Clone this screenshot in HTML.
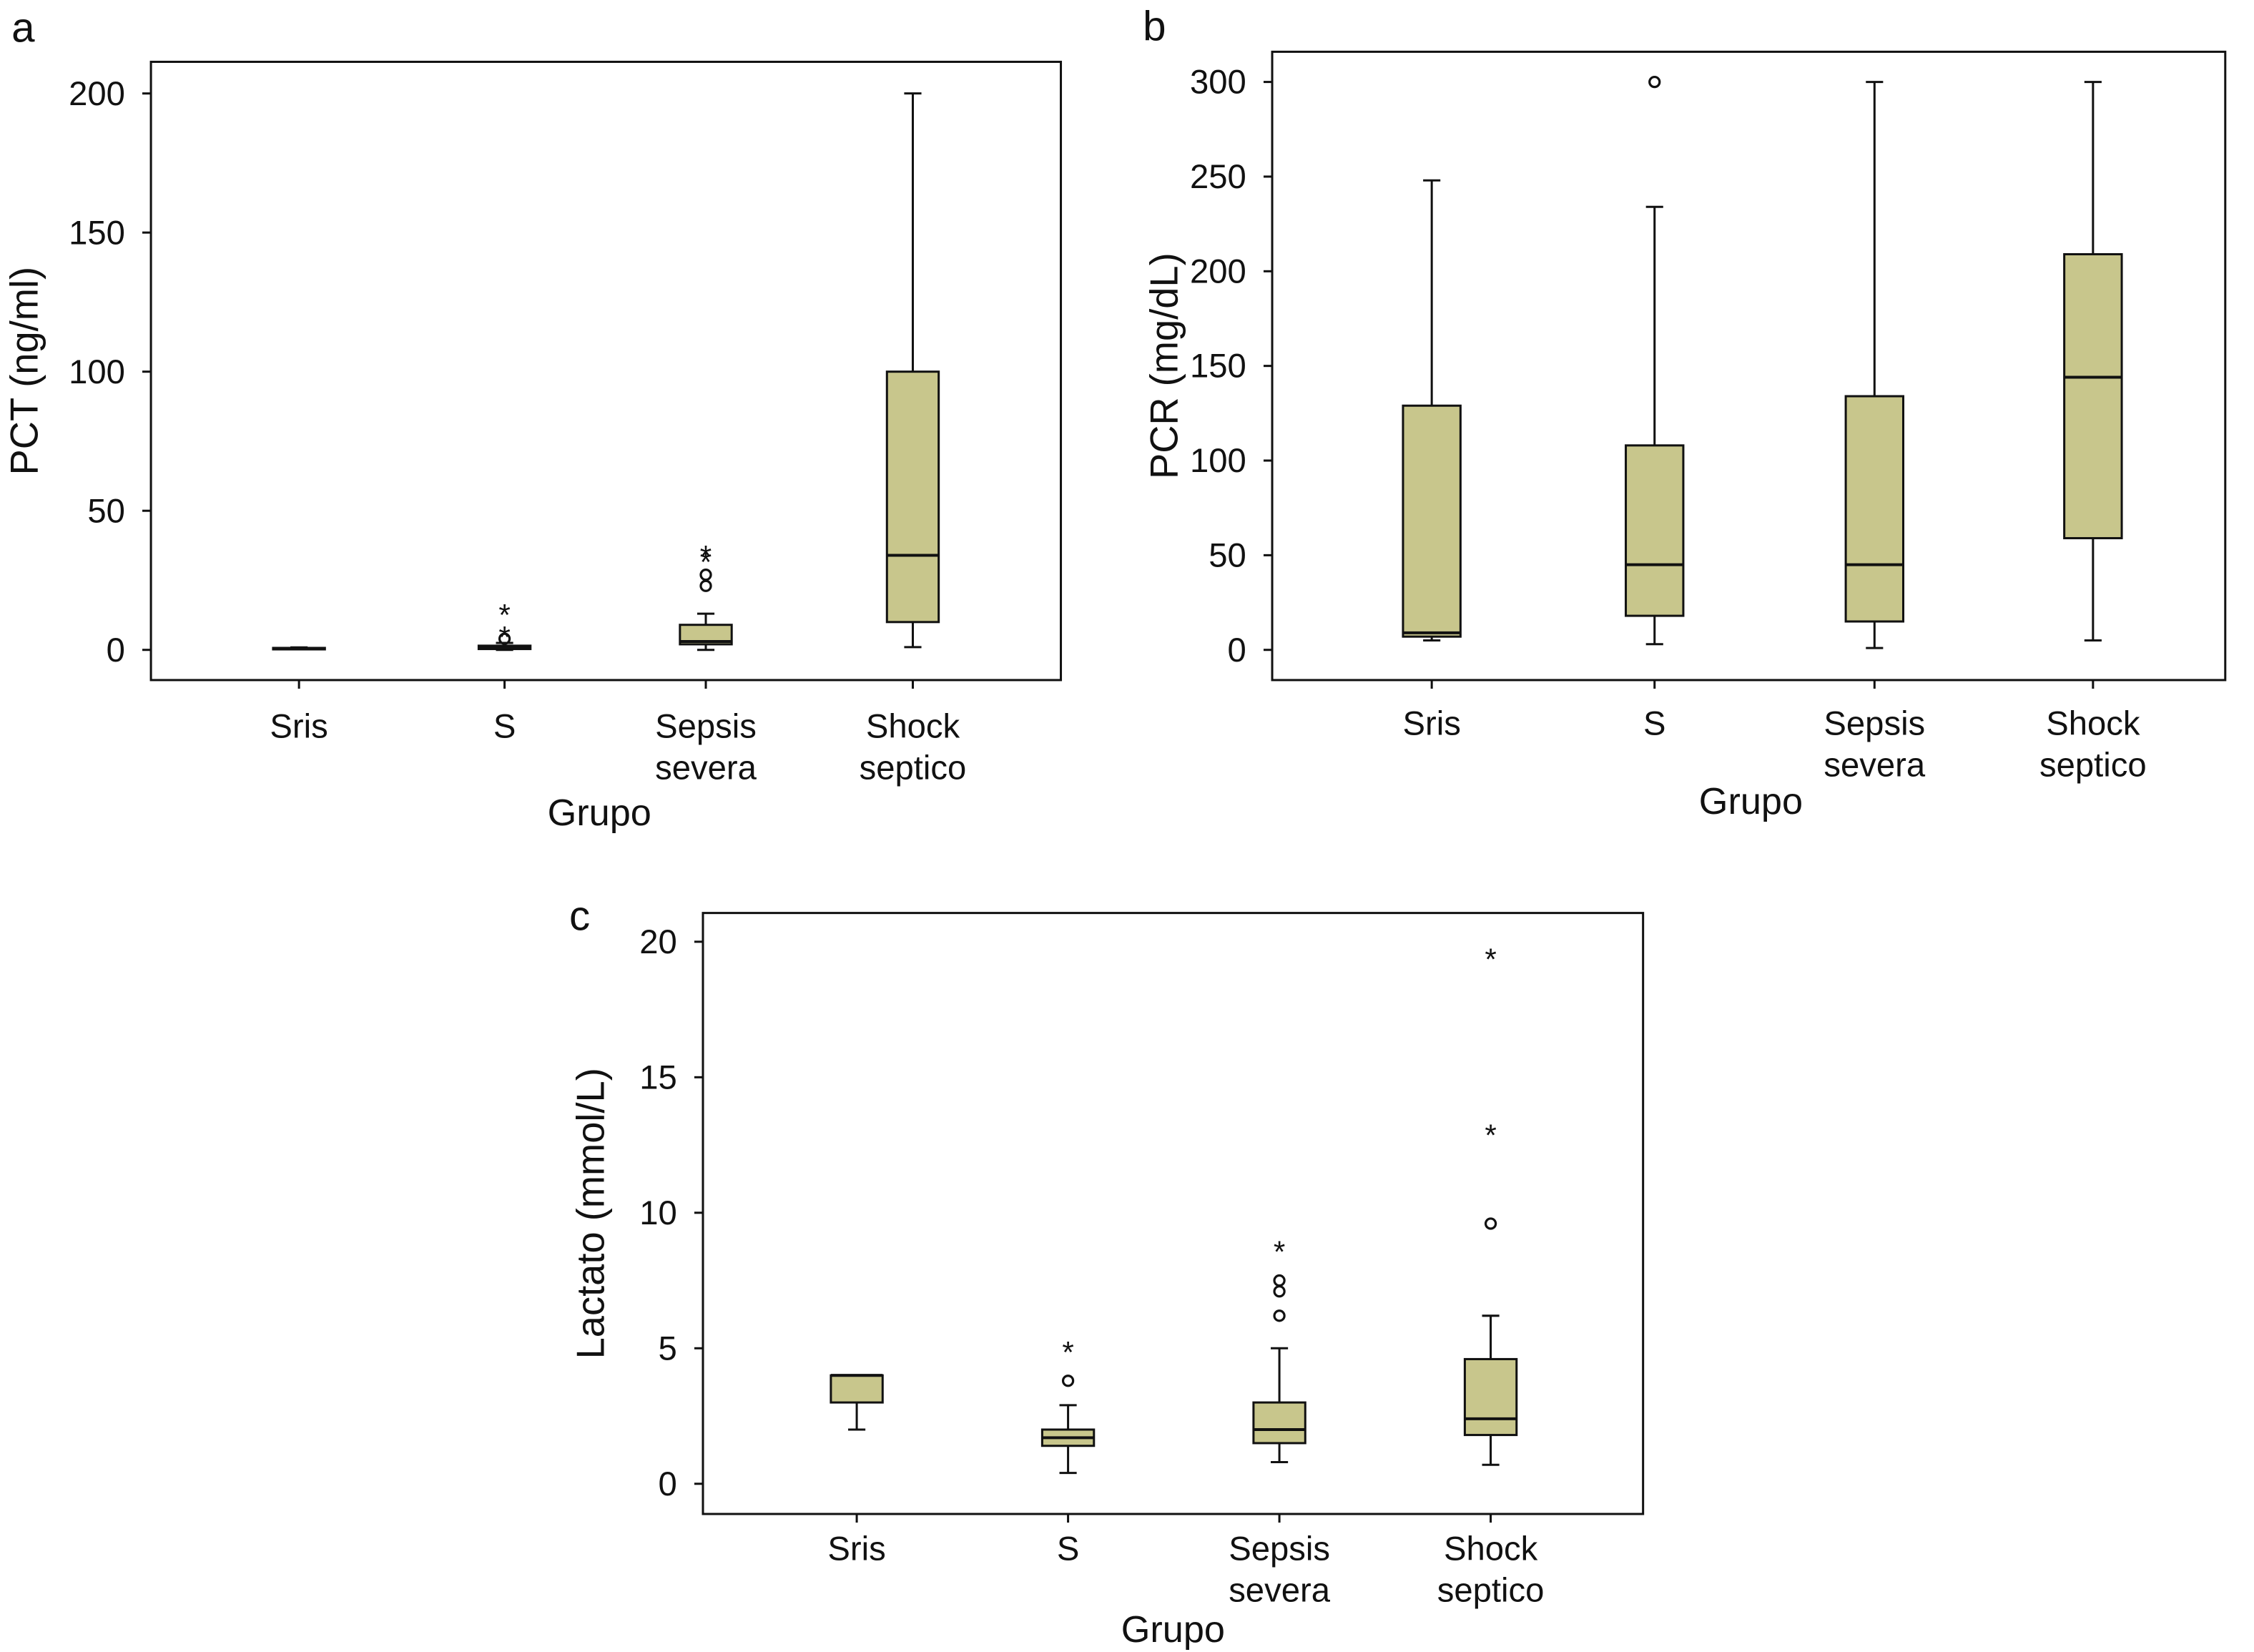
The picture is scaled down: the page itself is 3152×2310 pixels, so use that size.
<!DOCTYPE html>
<html><head><meta charset="utf-8"><style>
html,body{margin:0;padding:0;background:#fff}
svg{display:block}
text{font-family:"Liberation Sans",Arial,sans-serif;fill:#111}
</style></head><body>
<svg id="chart" width="3152" height="2310" viewBox="0 0 1568 1149" preserveAspectRatio="none" xmlns="http://www.w3.org/2000/svg"></svg>
<script>
const categories = ["Sris","S","Sepsis|severa","Shock|septico"];
// panel a: PCT
const pctStats = [[0.2,0.3,0.5,0.7,0.9],[0,0.3,0.8,1.5,2.5],[0,2,3,9,13],[1,10,34,100,200]];
const pctCircles = [[],[4],[23,27],[]];
const pctStars = [[],[6,14],[33,35],[]];
const pctTicks = [0,50,100,150,200];
// panel b: PCR
const pcrStats = [[5,7,9,129,248],[3,18,45,108,234],[1,15,45,134,300],[5,59,144,209,300]];
const pcrCircles = [[],[300],[],[]];
const pcrStars = [[],[],[],[]];
const pcrTicks = [0,50,100,150,200,250,300];
// panel c: Lactato
const lacStats = [[2,3,4,4,4],[0.4,1.4,1.7,2.0,2.9],[0.8,1.5,2.0,3.0,5.0],[0.7,1.8,2.4,4.6,6.2]];
const lacCircles = [[],[3.8],[6.2,7.1,7.5],[9.6]];
const lacStars = [[],[5.0],[8.7],[13.0,19.5]];
const lacTicks = [0,5,10,15,20];

const svg = document.getElementById('chart');
const NS = "http://www.w3.org/2000/svg";
function mk(tag, attrs, parent){const e=document.createElementNS(NS,tag);for(const k in attrs)e.setAttribute(k,attrs[k]);(parent||svg).appendChild(e);return e;}

function panel(cfg){
  const g = mk('g',{});
  
  
  const y = v => cfg.y0 - (v - cfg.vmin) * (cfg.y0 - cfg.y1) / (cfg.vmax - cfg.vmin);
  const frame = mk('rect',{x:cfg.fx,y:cfg.fy,width:cfg.fw,height:cfg.fh,fill:'none',stroke:'#111','stroke-width':1.5},g);
  
  
  const lbl = mk('text',{x:cfg.lx,y:cfg.ly,'font-size':29},g); lbl.textContent=cfg.letter;
  
  
  cfg.ticks.forEach(t=>{
    mk('line',{x1:cfg.fx-6,x2:cfg.fx,y1:y(t),y2:y(t),stroke:'#111','stroke-width':1.5},g);
    const tx = mk('text',{x:cfg.fx-18,y:y(t)+8,'font-size':23.5,'text-anchor':'end'},g); tx.textContent=t;
    
    
  });
  const yt = mk('text',{transform:`translate(${cfg.ytx},${(cfg.fy+cfg.fy+cfg.fh)/2}) rotate(-90)`,'font-size':27,'text-anchor':'middle'},g);
  yt.textContent = cfg.ytitle;
  
  
  const xt = mk('text',{x:cfg.xtx,y:cfg.xty,'font-size':26,'text-anchor':'middle'},g);
  xt.textContent='Grupo';
  
  
  categories.forEach((c,i)=>{
    const cx = cfg.cx[i], hw = cfg.bw/2, s = cfg.stats[i];
    mk('line',{x1:cx,x2:cx,y1:cfg.fy+cfg.fh,y2:cfg.fy+cfg.fh+6,stroke:'#111','stroke-width':1.5},g);
    c.split('|').forEach((p,j)=>{
      const t = mk('text',{x:cx,y:cfg.fy+cfg.fh+cfg.xlo+j*29,'font-size':23.5,'text-anchor':'middle'},g); t.textContent=p;
      
      
    });
    const bg = mk('g',{},g);
    
    
    mk('line',{x1:cx,x2:cx,y1:y(s[0]),y2:y(s[1]),stroke:'#111','stroke-width':1.5},bg);
    mk('line',{x1:cx,x2:cx,y1:y(s[3]),y2:y(s[4]),stroke:'#111','stroke-width':1.5},bg);
    mk('line',{x1:cx-6,x2:cx+6,y1:y(s[0]),y2:y(s[0]),stroke:'#111','stroke-width':1.5},bg);
    mk('line',{x1:cx-6,x2:cx+6,y1:y(s[4]),y2:y(s[4]),stroke:'#111','stroke-width':1.5},bg);
    mk('rect',{x:cx-hw,y:y(s[3]),width:cfg.bw,height:Math.max(1,y(s[1])-y(s[3])),fill:'#c8c68c',stroke:'#111','stroke-width':1.5},bg);
    mk('line',{x1:cx-hw,x2:cx+hw,y1:y(s[2]),y2:y(s[2]),stroke:'#111','stroke-width':2},bg);
    cfg.circles[i].forEach(v=>{
      const o = mk('circle',{cx:cx,cy:y(v),r:3.5,fill:'none',stroke:'#111','stroke-width':1.6},bg);
      
      
    });
    cfg.stars[i].forEach(v=>{
      const o = mk('text',{x:cx,y:y(v)+10,'font-size':21,'text-anchor':'middle'},bg); o.textContent='*';
      
      
    });
  });
}

panel({name:'panel-a-pct',letter:'a',lx:8,ly:29,fx:105,fy:43,fw:633,fh:430,y0:452,y1:65,vmin:0,vmax:200,
  ticks:pctTicks,ytitle:'PCT (ng/ml)',ytx:26,xtx:417,xty:574,xlo:40,cx:[208,351,491,635],bw:36,
  stats:pctStats,circles:pctCircles,stars:pctStars});
panel({name:'panel-b-pcr',letter:'b',lx:795,ly:28,fx:885,fy:36,fw:663,fh:437,y0:452,y1:57,vmin:0,vmax:300,
  ticks:pcrTicks,ytitle:'PCR (mg/dL)',ytx:819,xtx:1218,xty:566,xlo:38,cx:[996,1151,1304,1456],bw:40,
  stats:pcrStats,circles:pcrCircles,stars:pcrStars});
panel({name:'panel-c-lactato',letter:'c',lx:396,ly:647,fx:489,fy:635,fw:654,fh:418,y0:1032,y1:655,vmin:0,vmax:20,
  ticks:lacTicks,ytitle:'Lactato (mmol/L)',ytx:420,xtx:816,xty:1142,xlo:32,cx:[596,743,890,1037],bw:36,
  stats:lacStats,circles:lacCircles,stars:lacStars});
</script>
</body></html>
